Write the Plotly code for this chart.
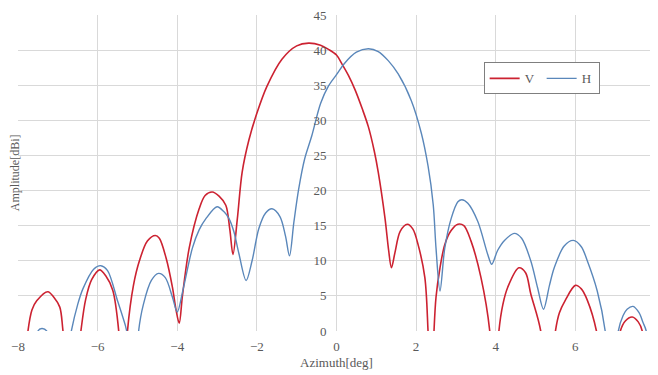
import plotly.graph_objects as go

# V polarisation (red)
v_az = [-7.9, -7.75, -7.65, -7.53, -7.25, -7.1, -6.95, -6.87, -6.65,
        -6.42, -6.3, -6.15, -5.95, -5.8, -5.62, -5.47, -5.36,
        -5.25, -5.1, -4.95, -4.75, -4.55, -4.45, -4.28, -4.12, -4.03, -3.95,
        -3.87, -3.7, -3.45, -3.3, -3.12, -2.95, -2.78, -2.68, -2.6,
        -2.49, -2.37, -2.2, -2.0, -1.75, -1.37, -1.0, -0.7, -0.4, -0.2,
        0.0, 0.13, 0.3, 0.47, 0.65, 0.8, 0.95, 1.05, 1.22, 1.31, 1.38,
        1.47, 1.6, 1.78, 1.92, 2.05, 2.22, 2.3, 2.38,
        2.45, 2.5, 2.6, 2.72, 2.88, 3.05, 3.2, 3.38, 3.63, 3.85, 3.96,
        4.08, 4.18, 4.3, 4.58, 4.75, 4.88, 5.13, 5.3,
        5.5, 5.6, 5.75, 6.0, 6.15, 6.3, 6.53, 6.8,
        7.13, 7.25, 7.43, 7.58, 7.68, 7.8]
v_db = [-10, 0, 3.0, 4.3, 5.6, 4.8, 3.4, 0, -12,
        0, 4.5, 7.3, 8.7, 7.9, 5.8, 0, -12,
        0, 6.5, 10.0, 12.8, 13.6, 13.2, 10.4, 6.2, 3.0, 1.1,
        5.0, 11.8, 17.4, 19.3, 19.8, 19.2, 17.9, 14.5, 10.9,
        16.0, 22.6, 27.2, 31.0, 34.8, 38.7, 40.6, 41.0, 40.7, 40.1,
        39.3, 38.1, 36.4, 34.3, 31.6, 29.1, 25.6, 22.6, 16.0, 11.5, 9.0,
        11.2, 14.2, 15.2, 14.5, 12.3, 7.6, 0, -12,
        0, 4.8, 9.0, 12.3, 14.3, 15.2, 15.0, 12.8, 7.6, 0, -12,
        0, 3.8, 6.2, 9.0, 8.3, 5.3, 0, -12,
        0, 2.6, 4.4, 6.5, 6.0, 4.4, 0, -12,
        0, 1.4, 2.0, 1.3, 0, -10]

# H polarisation (blue)
h_az = [-7.6, -7.5, -7.4, -7.28, -7.0,
        -6.66, -6.5, -6.37, -6.1, -5.92, -5.75, -5.5, -5.38, -5.27, -5.1,
        -4.97, -4.85, -4.65, -4.47, -4.3, -4.12, -4.0,
        -3.85, -3.62, -3.45, -3.28, -3.0, -2.83, -2.7, -2.58, -2.45, -2.27,
        -2.12, -1.95, -1.78, -1.62, -1.42, -1.28, -1.18,
        -1.07, -0.95, -0.8, -0.62, -0.4, -0.2, 0.0, 0.2, 0.5, 0.8, 1.05, 1.3, 1.55,
        1.88, 2.13, 2.3, 2.43, 2.5, 2.6,
        2.72, 2.88, 3.05, 3.15, 3.3, 3.55, 3.8, 3.9,
        4.05, 4.22, 4.47, 4.65, 4.88, 5.05, 5.2,
        5.35, 5.47, 5.72, 5.95, 6.15, 6.3, 6.55, 6.75, 6.9,
        7.08, 7.2, 7.3, 7.45, 7.6, 7.7, 7.78, 7.9]
h_db = [-10, 0, 0.35, 0, -12,
        0, 3.8, 6.0, 8.8, 9.3, 8.6, 4.3, 2.2, 0, -12,
        0, 3.8, 7.2, 8.2, 7.6, 4.8, 2.7,
        6.0, 11.8, 14.4, 16.0, 17.7, 17.0, 16.0, 14.2, 11.0, 7.2,
        10.0, 14.6, 16.8, 17.4, 16.3, 13.5, 10.7,
        15.5, 20.2, 24.5, 27.8, 32.4, 34.9, 36.5, 38.1, 39.7, 40.2, 39.8, 38.5, 36.6,
        32.8, 28.2, 23.5, 18.0, 11.8, 5.7,
        11.8, 16.0, 18.4, 18.7, 18.2, 15.6, 10.9, 9.5,
        11.5, 12.9, 13.9, 13.2, 10.0, 6.2, 3.1,
        6.5, 9.0, 12.1, 12.9, 12.0, 10.0, 5.7, 0, -12,
        0, 2.2, 3.1, 3.5, 2.6, 1.2, 0, -10]

x_ticks = [-8, -6, -4, -2, 0, 2, 4, 6, 8]
y_ticks = [0, 5, 10, 15, 20, 25, 30, 35, 40, 45]

RED = "#CC2231"
BLUE = "#5A87BA"
TXT = "#595959"
GRID = "#D9D9D9"
FONT = "Liberation Serif, Times New Roman, DejaVu Serif, serif"

fig = go.Figure()
fig.add_trace(go.Scatter(x=v_az, y=v_db, name="V", mode="lines",
                         line=dict(color=RED, width=1.6, shape="spline", smoothing=0.9)))
fig.add_trace(go.Scatter(x=h_az, y=h_db, name="H", mode="lines",
                         line=dict(color=BLUE, width=1.4, shape="spline", smoothing=0.9)))

# the page body has an 8px default margin, so the figure is sized to compensate
fig.update_layout(
    width=650, height=367,
    margin=dict(l=10, r=0, t=2, b=44),
    paper_bgcolor="white", plot_bgcolor="white",
    font=dict(family=FONT, size=13, color=TXT),
    showlegend=True,
    legend=dict(orientation="h", x=0.731, y=0.85, xanchor="left", yanchor="top",
                bordercolor="#7F7F7F", borderwidth=1, bgcolor="white",
                font=dict(family=FONT, size=13, color=TXT),
                entrywidth=12, itemwidth=30),
    xaxis=dict(range=[-8, 8.001], tickvals=x_ticks, showgrid=True, gridcolor=GRID,
               gridwidth=1, zeroline=False, showline=False, ticks="",
               ticklabeloverflow="allow", ticklabelstandoff=6,
               tickfont=dict(family=FONT, size=13, color=TXT),
               title=dict(text="Azimuth[deg]", font=dict(family=FONT, size=13, color=TXT),
                          standoff=4)),
    yaxis=dict(range=[0, 45], tickvals=y_ticks, showgrid=True, gridcolor=GRID,
               gridwidth=1, zeroline=False, showline=False, ticks="",
               anchor="free", position=0.5, ticklabelstandoff=10,
               ticklabeloverflow="allow",
               tickfont=dict(family=FONT, size=13, color=TXT)),
)

fig.add_annotation(text="Amplitude[dBi]", xref="paper", yref="paper",
                   x=-0.0045, y=0.5, xanchor="center", yanchor="middle",
                   textangle=-90, showarrow=False,
                   font=dict(family=FONT, size=12, color=TXT))

fig.write_html("out.html")
